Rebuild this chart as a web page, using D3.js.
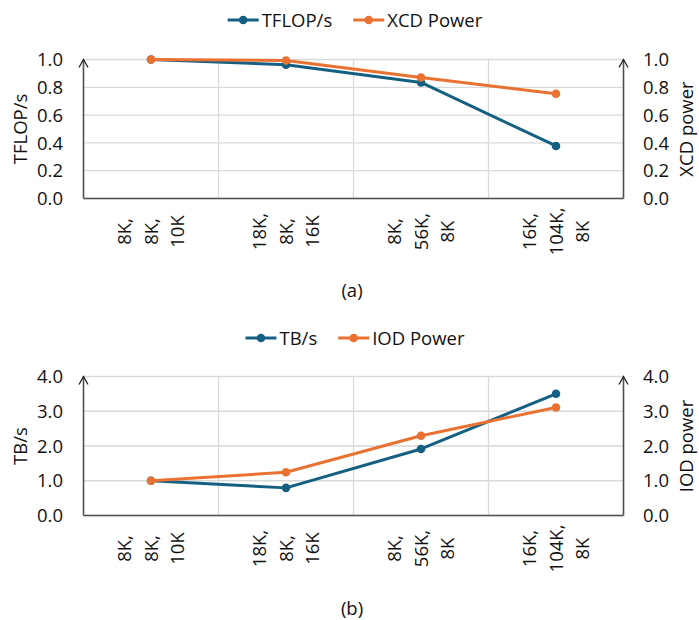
<!DOCTYPE html>
<html>
<head>
<meta charset="utf-8">
<script src="https://cdn.jsdelivr.net/npm/d3@7"></script>
<style>
  html, body { margin: 0; padding: 0; background: #fff; }
  svg text { font-family: "Open Sans", "Noto Sans", sans-serif; fill: #111; }
</style>
</head>
<body>
<svg id="chart" width="699" height="620"></svg>
<script>
// ---- data ----
const categories = [["8K,", "8K,", "10K"], ["18K,", "8K,", "16K"], ["8K,", "56K,", "8K"], ["16K,", "104K,", "8K"]];
const tflops = [1.0, 0.962, 0.835, 0.378];
const xcdPower = [1.0, 0.993, 0.871, 0.753];
const tbs = [1.0, 0.795, 1.915, 3.503];
const iodPower = [1.0, 1.243, 2.297, 3.11];
const ticksA = [0.0, 0.2, 0.4, 0.6, 0.8, 1.0];
const ticksB = [0.0, 1.0, 2.0, 3.0, 4.0];

const BLUE = "#156082", ORANGE = "#E97132";
const svg = d3.select("#chart");
const FS = 18.5;

function panel(cfg) {
  const left = 83.5, right = 623.5;
  const top = cfg.top, bottom = cfg.top + 139;
  const x = d3.scaleBand().domain(d3.range(categories.length)).range([left, right]).paddingInner(0).paddingOuter(0);
  const y = d3.scaleLinear().domain([0, cfg.max]).range([bottom, top]);
  const g = svg.append("g");

  // horizontal gridlines
  g.selectAll("line.hg").data(cfg.ticks).join("line")
    .attr("x1", left).attr("x2", right)
    .attr("y1", d => y(d)).attr("y2", d => y(d))
    .attr("stroke", "#d9d9d9").attr("stroke-width", 1.3);
  // vertical gridlines at category boundaries
  g.selectAll("line.vg").data(d3.range(1, categories.length)).join("line")
    .attr("x1", d => x(d)).attr("x2", d => x(d))
    .attr("y1", top).attr("y2", bottom)
    .attr("stroke", "#d9d9d9").attr("stroke-width", 1.3);

  // axes lines
  const axC = "#505050";
  g.append("line").attr("x1", left).attr("x2", right).attr("y1", bottom).attr("y2", bottom)
    .attr("stroke", axC).attr("stroke-width", 1.6);
  [left, right].forEach(ax => {
    g.append("line").attr("x1", ax).attr("x2", ax).attr("y1", bottom).attr("y2", top)
      .attr("stroke", axC).attr("stroke-width", 1.6);
    g.append("path").attr("d", `M${ax - 4.5},${top + 8} L${ax},${top} L${ax + 4.5},${top + 8}`)
      .attr("fill", "none").attr("stroke", "#222").attr("stroke-width", 1.3);
  });

  // tick labels
  const fmt = d3.format(".1f");
  g.selectAll("text.yl").data(cfg.ticks).join("text")
    .attr("x", 63).attr("y", d => y(d)).attr("dy", "0.36em")
    .attr("text-anchor", "end").attr("font-size", FS).text(d => fmt(d));
  g.selectAll("text.yr").data(cfg.ticks).join("text")
    .attr("x", 643).attr("y", d => y(d)).attr("dy", "0.36em")
    .attr("text-anchor", "start").attr("font-size", FS).text(d => fmt(d));

  // axis titles
  const mid = (top + bottom) / 2;
  g.append("text").attr("transform", `translate(20,${mid}) rotate(-90)`).attr("dy", "0.36em")
    .attr("text-anchor", "middle").attr("font-size", FS).text(cfg.yTitle);
  g.append("text").attr("transform", `translate(686,${mid}) rotate(-90)`).attr("dy", "0.36em")
    .attr("text-anchor", "middle").attr("font-size", FS).text(cfg.y2Title);

  // category labels (rotated, multi-line)
  categories.forEach((lines, i) => {
    const cx = x(i) + x.bandwidth() / 2;
    const t = g.append("text").attr("transform", `translate(${cx},${bottom + 33}) rotate(-90)`)
      .attr("text-anchor", "middle").attr("font-size", FS);
    lines.forEach((ln, j) => {
      t.append("tspan").attr("x", 0).attr("y", (j - 1) * 26.5).attr("dy", "0.36em").text(ln);
    });
  });

  // series
  const line = d3.line().x((d, i) => x(i) + x.bandwidth() / 2).y(d => y(d));
  cfg.series.forEach(s => {
    g.append("path").datum(s.values).attr("d", line).attr("fill", "none")
      .attr("stroke", s.color).attr("stroke-width", 3).attr("stroke-linejoin", "round");
    g.selectAll(null).data(s.values).join("circle")
      .attr("cx", (d, i) => x(i) + x.bandwidth() / 2).attr("cy", d => y(d)).attr("r", 4.3)
      .attr("fill", s.color);
  });

  // legend
  const lg = svg.append("g");
  let cursor = 0;
  cfg.series.forEach((s, k) => {
    const it = lg.append("g");
    it.append("line").attr("x1", 0).attr("x2", 31).attr("y1", 0).attr("y2", 0)
      .attr("stroke", s.color).attr("stroke-width", 3);
    it.append("circle").attr("cx", 15.5).attr("cy", 0).attr("r", 4.3).attr("fill", s.color);
    const tx = it.append("text").attr("x", 34).attr("dy", "0.36em").attr("font-size", FS).text(s.name);
    const w = 34 + tx.node().getComputedTextLength();
    it.attr("transform", `translate(${cursor},${cfg.legendY})`);
    cursor += w + 21;
  });
  const total = cursor - 21;
  lg.attr("transform", `translate(${355 - total / 2},0)`);

  // caption
  svg.append("text").attr("x", 352).attr("y", cfg.captionY).attr("text-anchor", "middle")
    .attr("font-size", FS).text(cfg.caption);
}

panel({ top: 59.5, max: 1.0, ticks: ticksA, yTitle: "TFLOP/s", y2Title: "XCD power",
  series: [{ name: "TFLOP/s", values: tflops, color: BLUE }, { name: "XCD Power", values: xcdPower, color: ORANGE }],
  legendY: 20, caption: "(a)", captionY: 297 });
panel({ top: 376.5, max: 4.0, ticks: ticksB, yTitle: "TB/s", y2Title: "IOD power",
  series: [{ name: "TB/s", values: tbs, color: BLUE }, { name: "IOD Power", values: iodPower, color: ORANGE }],
  legendY: 338, caption: "(b)", captionY: 615 });
</script>
</body>
</html>
